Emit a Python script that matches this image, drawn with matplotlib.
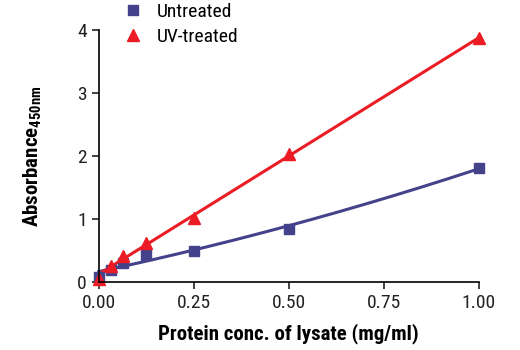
import numpy as np
import matplotlib.pyplot as plt

plt.rcParams['font.family'] = ['Roboto Condensed', 'DejaVu Sans']
plt.rcParams['mathtext.default'] = 'regular'

conc = [0.0, 0.03125, 0.0625, 0.125, 0.25, 0.5, 1.0]
untreated = [0.08, 0.19, 0.30, 0.43, 0.50, 0.85, 1.81]
uv_treated = [0.05, 0.26, 0.42, 0.62, 1.02, 2.03, 3.87]

blue = '#45428c'
red = '#ec1c24'

fig = plt.figure(figsize=(5.2, 3.5), dpi=100)
ax = fig.add_axes([0.19, 0.194, 0.731, 0.72])

# fitted curves: quadratic for untreated, linear for UV-treated
xs = np.linspace(0, 1, 200)
p_un = np.polyfit(conc, untreated, 2)
p_uv = np.polyfit(conc, uv_treated, 1)
ax.plot(xs, np.polyval(p_un, xs), color=blue, lw=2.2, clip_on=False)
ax.plot(xs, np.polyval(p_uv, xs), color=red, lw=2.2, clip_on=False)

ax.plot(conc, untreated, 's', color=blue, ms=7, label='Untreated', clip_on=False)
ax.plot(conc, uv_treated, '^', color=red, ms=8, label='UV-treated', clip_on=False)

ax.set_xlim(0, 1)
ax.set_ylim(0, 4)
ax.set_xticks([0, 0.25, 0.5, 0.75, 1.0])
ax.set_xticklabels(['0.00', '0.25', '0.50', '0.75', '1.00'])
ax.set_yticks([0, 1, 2, 3, 4])
ax.spines['top'].set_visible(False)
ax.spines['right'].set_visible(False)
ax.spines['left'].set_linewidth(1.2)
ax.spines['bottom'].set_linewidth(1.2)
ax.tick_params(labelsize=14, width=1.2, length=5, colors='#222222')

ax.set_xlabel('Protein conc. of lysate (mg/ml)', fontsize=15, fontweight='bold', labelpad=8)
ax.set_ylabel(r'Absorbance$_{\mathregular{450nm}}$', fontsize=15, fontweight='bold', labelpad=24)

fig.legend(loc='upper left', bbox_to_anchor=(0.208, 1.035), frameon=False,
           fontsize=14, handlelength=1.0, handletextpad=0.7,
           labelspacing=0.35, borderpad=0.3)

fig.savefig('out.png', dpi=100)
